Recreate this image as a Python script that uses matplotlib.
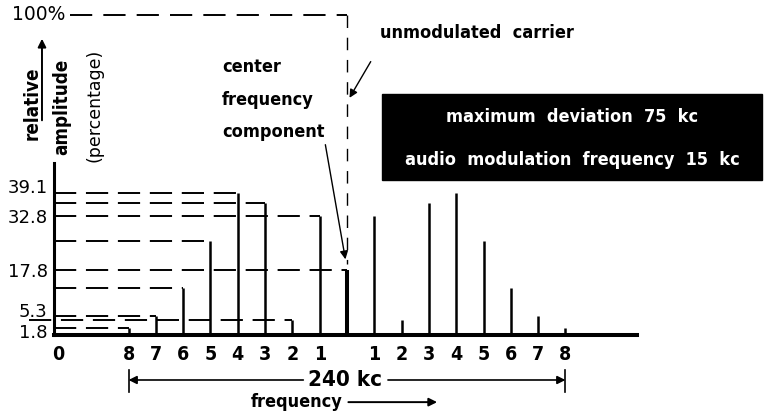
import matplotlib
matplotlib.use("Agg")
import matplotlib.pyplot as plt
from matplotlib.patches import Rectangle

plt.rcParams["lines.scale_dashes"] = False

# sideband order and relative amplitude (%) of each component, index = order
orders = [0, 1, 2, 3, 4, 5, 6, 7, 8]
amplitudes = [17.8, 32.8, 4.0, 36.4, 39.1, 25.9, 13.0, 5.3, 1.8]
ytick_values = [39.1, 32.8, 17.8, 5.3, 1.8]
ytick_labels = ["39.1", "32.8", "17.8", "5.3", "1.8"]
ytick_nudge = [3.6, -1.4, -1.4, 2.9, -3.6]   # points, keeps close labels apart
box_lines = ["maximum  deviation  75  kc", "audio  modulation  frequency  15  kc"]

cond = dict(family="DejaVu Sans", fontstretch="condensed", fontweight="bold")
plain = dict(family="DejaVu Sans")

fig = plt.figure(figsize=(7.66, 4.16), dpi=100)
ax = fig.add_axes([54 / 766, 81 / 416, 583 / 766, 172 / 416])
x0 = -10.73
ax.set_xlim(x0, 10.62)
ax.set_ylim(0, 47.4)
for side in ["top", "right"]:
    ax.spines[side].set_visible(False)
ax.spines["bottom"].set_linewidth(2.9)
ax.spines["left"].set_linewidth(2.2)

# spectrum lines, mirrored on both sides of the carrier
for n, a in zip(orders, amplitudes):
    if n == 0:
        ax.vlines(0, 0, a, color="black", lw=2.9, zorder=3)
    else:
        ax.vlines([-n, n], 0, a, color="black", lw=1.8, zorder=3)

# dashed leaders from the amplitude axis to the lower sidebands
for n, a in zip(orders, amplitudes):
    start = x0 - 0.9 if n == 2 else x0
    ax.plot([start, -n], [a, a], color="black", lw=1.4, dashes=(16, 7),
            zorder=2, solid_capstyle="butt", clip_on=False)

# 100% reference of the unmodulated carrier (axis is broken above 47%)
top = 88.2
ax.plot([-10.15, 0], [top, top], color="black", lw=1.4, dashes=(16, 8),
        clip_on=False)
ax.plot([0, 0], [top, 19.6], color="black", lw=1.0, dashes=(9, 7),
        clip_on=False)
ax.text(-10.3, top, "100%", ha="right", va="center", fontsize=13.5, **plain)

# ticks
ax.set_yticks([])
for v, s, d in zip(ytick_values, ytick_labels, ytick_nudge):
    ax.annotate(s, xy=(x0, v), xytext=(-4.5, d), textcoords="offset points",
                ha="right", va="center", fontsize=13, annotation_clip=False,
                **plain)
xt = [-10.59] + [-n for n in orders[1:]] + orders[1:]
xl = ["0"] + [str(n) for n in orders[1:]] * 2
ax.set_xticks(xt)
ax.set_xticklabels(xl, fontsize=14, **cond)
ax.tick_params(axis="x", length=0, pad=7)

# axis title
ax.text(-11.54, 63.9, "relative", rotation=90, ha="center", va="center",
        fontsize=13.5, clip_on=False, **cond)
ax.annotate("", xy=(-11.17, 82.4), xytext=(-11.17, 58.4),
            arrowprops=dict(arrowstyle="-|>", lw=1.4, color="black",
                            mutation_scale=12), annotation_clip=False)
ax.text(-10.44, 62.8, "amplitude", rotation=90, ha="center", va="center",
        fontsize=13.5, clip_on=False, **cond)
ax.text(-9.23, 63.4, "(percentage)", rotation=90, ha="center", va="center",
        fontsize=12.5, clip_on=False, **plain)

# callouts
ax.text(1.21, 83.2, "unmodulated  carrier", ha="left", va="center",
        fontsize=13, clip_on=False, **cond)
ax.annotate("", xy=(0.04, 64.7), xytext=(0.92, 76.0),
            arrowprops=dict(arrowstyle="-|>", lw=1.0, color="black",
                            mutation_scale=12), annotation_clip=False)
for y, s in zip([73.8, 64.7, 55.9], ["center", "frequency", "component"]):
    ax.text(-4.58, y, s, ha="left", va="center", fontsize=13,
            clip_on=False, **cond)
ax.annotate("", xy=(-0.04, 20.1), xytext=(-0.81, 53.2),
            arrowprops=dict(arrowstyle="-|>", lw=1.0, color="black",
                            mutation_scale=12), annotation_clip=False)

# parameter box
ax.add_patch(Rectangle((1.28, 42.7), 13.92, 23.7, color="black",
                       clip_on=False, zorder=4))
for y, s in zip([60.1, 48.2], box_lines):
    ax.text(8.24, y, s, ha="center", va="center", color="white",
            fontsize=13, clip_on=False, zorder=5, **cond)

# bandwidth dimension
yb = -12.4
ax.annotate("", xy=(-8, yb), xytext=(-1.6, yb),
            arrowprops=dict(arrowstyle="-|>", lw=1.2, color="black",
                            mutation_scale=12, shrinkA=0, shrinkB=0),
            annotation_clip=False)
ax.annotate("", xy=(8, yb), xytext=(1.5, yb),
            arrowprops=dict(arrowstyle="-|>", lw=1.2, color="black",
                            mutation_scale=12, shrinkA=0, shrinkB=0),
            annotation_clip=False)
ax.plot([-8, -8], [-9.6, -15.7], color="black", lw=1.2, clip_on=False)
ax.plot([8, 8], [-9.6, -15.7], color="black", lw=1.2, clip_on=False)
ax.text(-0.07, yb, "240 kc", ha="center", va="center", fontsize=16,
        clip_on=False, **cond)
ax.text(-0.18, -18.5, "frequency", ha="right", va="center", fontsize=13,
        clip_on=False, **cond)
ax.annotate("", xy=(3.3, -18.5), xytext=(0.05, -18.5),
            arrowprops=dict(arrowstyle="-|>", lw=1.4, color="black",
                            mutation_scale=12, shrinkA=0, shrinkB=0),
            annotation_clip=False)

fig.savefig("out.png", dpi=100)
